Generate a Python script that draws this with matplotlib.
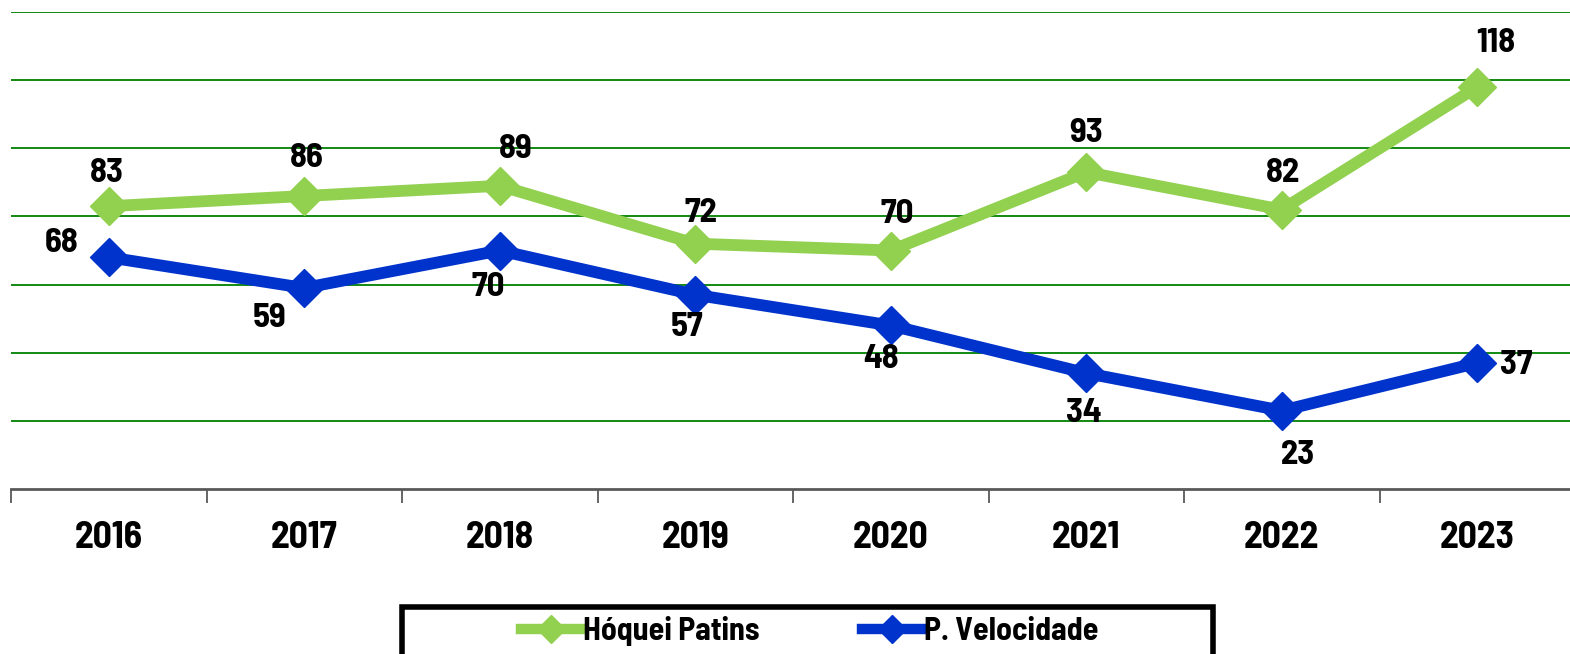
import numpy as np
import matplotlib
matplotlib.use('Agg')
import matplotlib.pyplot as plt
from matplotlib.lines import Line2D
from matplotlib.patches import Rectangle

# Data
years = ['2016', '2017', '2018', '2019', '2020', '2021', '2022', '2023']
hoquei = [83, 86, 89, 72, 70, 93, 82, 118]
velocidade = [68, 59, 70, 57, 48, 34, 23, 37]

# label offsets in pixels (dx, dy) from each point
hoquei_off = [(-2, 33), (3, 38), (16, 37), (6, 31), (6, 37), (0, 39), (1, 37), (19, 44)]
velo_off = [(-47, 14), (-35, -30), (-12, -36), (-8, -32), (-10, -34), (-2, -40), (16, -44), (39, -2)]

green = '#92D050'
blue = '#0033CC'
fam = ['Barlow Semi Condensed', 'DejaVu Sans']

plt.rcParams['font.family'] = fam
plt.rcParams['font.weight'] = 'bold'

fig = plt.figure(figsize=(15.7, 6.54), dpi=100)
ax = fig.add_axes([11 / 1570, 165 / 654, 1564 / 1570, 477 / 654])

x = np.arange(len(years))
ax.plot(x, hoquei, color=green, lw=8.5, marker='D', ms=19, zorder=3, label='Hóquei Patins')
ax.plot(x, velocidade, color=blue, lw=8.5, marker='D', ms=19, zorder=3, label='P. Velocidade')

for xi, v, off in zip(x, hoquei, hoquei_off):
    ax.annotate(str(v), (xi, v), xytext=off, textcoords='offset pixels',
                ha='center', va='center', fontsize=25, fontweight='bold')
for xi, v, off in zip(x, velocidade, velo_off):
    ax.annotate(str(v), (xi, v), xytext=off, textcoords='offset pixels',
                ha='center', va='center', fontsize=25, fontweight='bold')

ax.set_xlim(-0.5, 7.5)
ax.set_ylim(0, 140)
ax.set_yticks(np.arange(20, 141, 20))
ax.yaxis.grid(True, color='#008000', lw=1.3)
ax.set_axisbelow(True)
ax.tick_params(axis='y', left=False, labelleft=False)

ax.set_xticks(x)
ax.set_xticklabels(years, fontsize=27, fontweight='bold')
ax.set_xticks(np.arange(-0.5, 8, 1), minor=True)
ax.tick_params(axis='x', which='major', length=0, pad=23)
ax.tick_params(axis='x', which='minor', length=10, width=1.3, color='#595959', direction='out')

for s in ['top', 'right', 'left']:
    ax.spines[s].set_visible(False)
ax.spines['bottom'].set_color('#595959')
ax.spines['bottom'].set_linewidth(2)

# legend box
fig.patches.append(Rectangle((402 / 1570, -0.05), 811 / 1570, (654 - 607) / 654 + 0.05,
                             transform=fig.transFigure, facecolor='white',
                             edgecolor='black', lw=4, zorder=5))
handles = [Line2D([], [], color=green, lw=7.5, marker='D', ms=14),
           Line2D([], [], color=blue, lw=7.5, marker='D', ms=14)]
fig.legend(handles, ['Hóquei Patins', 'P. Velocidade'], loc='center',
           bbox_to_anchor=(810 / 1570, 1 - 631 / 654), ncol=2, frameon=False,
           handlelength=1.9, handletextpad=0.05, columnspacing=3.2,
           prop={'weight': 'bold', 'size': 23, 'family': fam})

fig.savefig('out.png', dpi=100)
